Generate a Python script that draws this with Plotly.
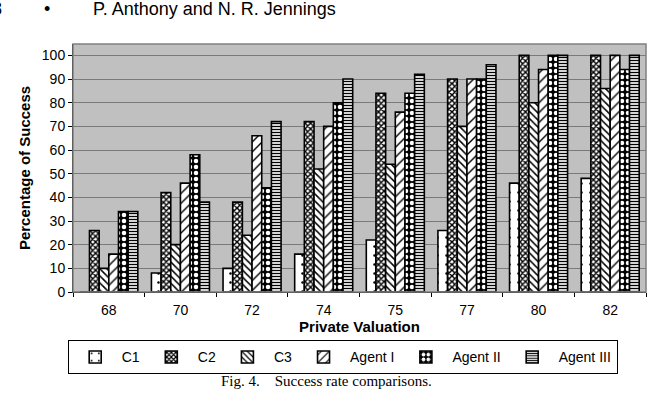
import plotly.graph_objects as go

categories = ["68", "70", "72", "74", "75", "77", "80", "82"]
c1 = [0, 8, 10, 16, 22, 26, 46, 48]
c2 = [26, 42, 38, 72, 84, 90, 100, 100]
c3 = [10, 20, 24, 52, 54, 70, 80, 86]
agent1 = [16, 46, 66, 70, 76, 90, 94, 100]
agent2 = [34, 58, 44, 80, 84, 90, 100, 94]
agent3 = [34, 38, 72, 90, 92, 96, 100, 100]
y_ticks = list(range(0, 101, 10))

series = [
    ("C1", c1, dict(shape=".", bgcolor="white", fgcolor="black", size=9, solidity=0.06)),
    ("C2", c2, dict(shape="x", bgcolor="white", fgcolor="black", size=4, solidity=0.6)),
    ("C3", c3, dict(shape="\\", bgcolor="white", fgcolor="black", size=5, solidity=0.3)),
    ("Agent I", agent1, dict(shape="/", bgcolor="white", fgcolor="black", size=7, solidity=0.2)),
    ("Agent II", agent2, dict(shape=".", bgcolor="black", fgcolor="white", size=6, solidity=0.45)),
    ("Agent III", agent3, dict(shape="-", bgcolor="white", fgcolor="black", size=3, solidity=0.45)),
]

W, H = 654, 394
L, R, T, B = 73.3, 646, 44.3, 291.7
PW, PH = R - L, B - T


def px(x):
    return (x - L) / PW


def py(y):
    return (B - y) / PH


fig = go.Figure()
for name, vals, pat in series:
    fig.add_trace(go.Bar(
        x=categories, y=vals, name=name,
        marker=dict(color=pat["bgcolor"], line=dict(color="black", width=1.6),
                    pattern=dict(fillmode="replace", **pat)),
    ))

font = "Liberation Sans"
fig.update_layout(
    width=W, height=H,
    margin=dict(l=L, r=W - R, t=T, b=H - B, pad=0),
    paper_bgcolor="white", plot_bgcolor="#c0c0c0",
    barmode="group", bargap=0.19, bargroupgap=0,
    font=dict(family=font, size=14, color="black"),
    showlegend=True,
    legend=dict(orientation="h", x=px(68), xanchor="left", y=py(340), yanchor="top",
                bordercolor="black", borderwidth=1, bgcolor="white",
                font=dict(family=font, size=14), itemwidth=43,
                traceorder="normal", tracegroupgap=0),
    xaxis=dict(type="category", showline=True, linecolor="black", linewidth=1,
               ticks="outside", ticklen=4, tickcolor="black", tickson="boundaries",
               showgrid=False, tickfont=dict(size=14), ticklabelstandoff=5,
               title=dict(text="<b>Private Valuation</b>", standoff=1, font=dict(size=15))),
    yaxis=dict(range=[0, 104.8], tickvals=y_ticks, showline=True, linecolor="black",
               linewidth=1, ticks="outside", ticklen=4, tickcolor="black",
               showgrid=True, gridcolor="#7a7a7a", gridwidth=1, zeroline=False,
               tickfont=dict(size=14),
               title=dict(text="<b>Percentage of Success</b>", standoff=7, font=dict(size=15))),
)

fig.add_shape(type="rect", xref="paper", yref="paper", x0=0, x1=1, y0=0, y1=1,
              line=dict(color="#808080", width=1.5), layer="above")

fig.add_annotation(text="8", xref="paper", yref="paper", x=px(4), y=py(9),
                   xanchor="right", yanchor="middle", showarrow=False,
                   font=dict(family=font, size=18))
fig.add_annotation(text="•", xref="paper", yref="paper", x=px(47), y=py(9),
                   xanchor="center", yanchor="middle", showarrow=False,
                   font=dict(family=font, size=18))
fig.add_annotation(text="P. Anthony and N. R. Jennings", xref="paper", yref="paper",
                   x=px(91), y=py(9), xanchor="left", yanchor="middle", showarrow=False,
                   font=dict(family=font, size=18))
fig.add_annotation(text="Fig. 4.    Success rate comparisons.", xref="paper", yref="paper",
                   x=px(327), y=py(380), xanchor="center", yanchor="middle", showarrow=False,
                   font=dict(family="Liberation Serif", size=15))

fig.write_html("out.html")
